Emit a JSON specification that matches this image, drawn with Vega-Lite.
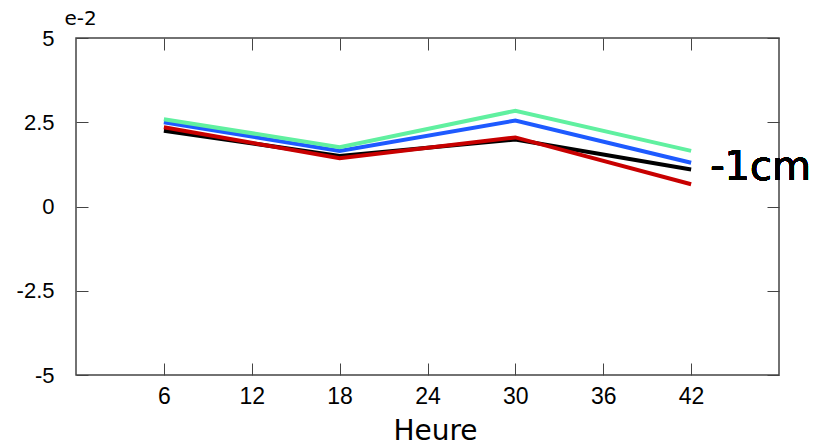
{
  "$schema": "https://vega.github.io/schema/vega-lite/v6.json",
  "width": 703,
  "height": 337,
  "autosize": "none",
  "padding": {"left": 76, "top": 38, "right": 47, "bottom": 70},
  "background": "white",
  "config": {
    "view": {"stroke": "#444", "strokeWidth": 1.5},
    "font": "Liberation Sans",
    "axis": {"grid": false, "domainColor": "#444", "tickColor": "#444", "labelColor": "black", "titleColor": "black", "labelFont": "Liberation Sans", "titleFont": "DejaVu Sans", "titleFontWeight": "normal"}
  },
  "data": {
    "values": [
      {"heure": 6, "v": 2.25, "serie": "noir"},
      {"heure": 18, "v": 1.5, "serie": "noir"},
      {"heure": 30, "v": 1.99, "serie": "noir"},
      {"heure": 42, "v": 1.1, "serie": "noir"},
      {"heure": 6, "v": 2.35, "serie": "rouge"},
      {"heure": 18, "v": 1.43, "serie": "rouge"},
      {"heure": 30, "v": 2.05, "serie": "rouge"},
      {"heure": 42, "v": 0.66, "serie": "rouge"},
      {"heure": 6, "v": 2.5, "serie": "bleu"},
      {"heure": 18, "v": 1.65, "serie": "bleu"},
      {"heure": 30, "v": 2.55, "serie": "bleu"},
      {"heure": 42, "v": 1.3, "serie": "bleu"},
      {"heure": 6, "v": 2.59, "serie": "vert"},
      {"heure": 18, "v": 1.76, "serie": "vert"},
      {"heure": 30, "v": 2.84, "serie": "vert"},
      {"heure": 42, "v": 1.65, "serie": "vert"}
    ]
  },
  "layer": [
    {
      "mark": {"type": "line", "strokeWidth": 4},
      "encoding": {
        "x": {"field": "heure", "type": "quantitative", "scale": {"domain": [0, 48], "nice": false}, "axis": {"orient": "bottom", "values": [6, 12, 18, 24, 30, 36, 42], "tickSize": -12, "labelPadding": 22, "labelFontSize": 23, "title": "Heure", "titleFontSize": 28, "titleX": 359, "titleY": 64, "titleAlign": "center", "titleBaseline": "alphabetic", "domain": false}},
        "y": {"field": "v", "type": "quantitative", "scale": {"domain": [-5, 5], "nice": false}, "axis": {"orient": "left", "values": [-5, -2.5, 0, 2.5, 5], "labelExpr": "'' + datum.value", "tickSize": -12, "labelPadding": 34, "labelFontSize": 22, "title": "e-2", "titleAngle": 0, "titleFontSize": 20, "titleX": -12, "titleY": -20, "titleAlign": "left", "titleBaseline": "middle", "domain": false}},
        "color": {"field": "serie", "type": "nominal", "scale": {"domain": ["noir", "rouge", "bleu", "vert"], "range": ["#000000", "#c80000", "#1e5aff", "#60f0a0"]}, "legend": null},
        "order": {"value": 0}
      }
    },
    {
      "mark": {"type": "text", "text": "-1cm", "fontSize": 40, "font": "DejaVu Sans", "align": "left", "baseline": "middle", "dx": 19, "clip": false},
      "encoding": {
        "x": {"datum": 42, "type": "quantitative", "axis": {"orient": "top", "values": [6, 12, 18, 24, 30, 36, 42], "tickSize": -12, "labels": false, "title": null, "domain": false}},
        "y": {"datum": 1.15, "type": "quantitative", "axis": {"orient": "right", "values": [-5, -2.5, 0, 2.5, 5], "tickSize": -12, "labels": false, "title": null, "domain": false}}
      }
    }
  ],
  "resolve": {"axis": {"x": "independent", "y": "independent"}}
}
